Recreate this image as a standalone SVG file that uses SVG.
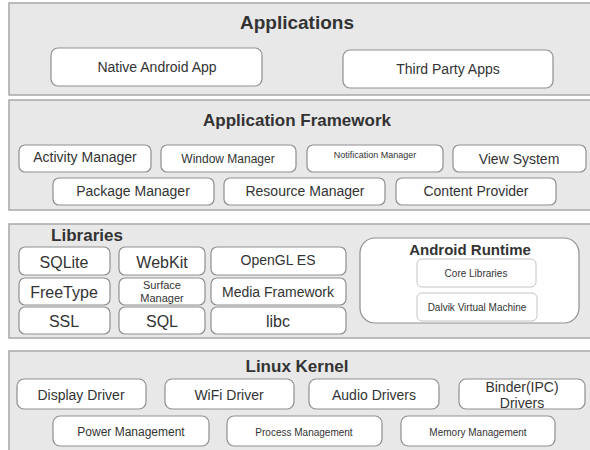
<svg xmlns="http://www.w3.org/2000/svg" width="590" height="450" viewBox="0 0 590 450">
<style>
.layer{fill:#e8e8e8;stroke:#a8a8a8;stroke-width:1.5}
.box{fill:#ffffff;stroke:#8f8f8f;stroke-width:1.2}
.rt{fill:#ffffff;stroke:#8f8f8f;stroke-width:1.2}
.in{fill:#ffffff;stroke:#c4c4c4;stroke-width:1}
text{font-family:"Liberation Sans",Arial,sans-serif;fill:#333333;text-anchor:middle;dominant-baseline:central}
.t{font-weight:bold;font-size:17px}
.l{font-size:14px}
.m{font-size:16px}
.s{font-size:10px}
.xs{font-size:9px}
</style>
<rect width="590" height="450" fill="#ffffff"/>
<g id="applications">
<rect class="layer" x="9" y="3" width="600" height="92"/>
<text class="t" x="297" y="22" style="font-size:19px">Applications</text>
</g>
<g id="native-android-app"><rect class="box" x="51" y="48" width="211" height="38" rx="7"/><text class="l" x="157" y="67">Native Android App</text></g>
<g id="third-party-apps"><rect class="box" x="343" y="50" width="210" height="38" rx="7"/><text class="l" x="448" y="69">Third Party Apps</text></g>

<g id="application-framework">
<rect class="layer" x="9" y="100" width="600" height="110"/>
<text class="t" x="297" y="120">Application Framework</text>
</g>
<g id="activity-manager"><rect class="box" x="19" y="145" width="132" height="27" rx="6"/><text class="l" x="85" y="157">Activity Manager</text></g>
<g id="window-manager"><rect class="box" x="161" y="145" width="135" height="27" rx="6"/><text class="l" x="228" y="159" style="font-size:12px">Window Manager</text></g>
<g id="notification-manager"><rect class="box" x="307" y="145" width="136" height="27" rx="6"/><text class="xs" x="375" y="155">Notification Manager</text></g>
<g id="view-system"><rect class="box" x="453" y="145" width="133" height="27" rx="6"/><text class="l" x="519" y="159">View System</text></g>
<g id="package-manager"><rect class="box" x="53" y="178" width="161" height="27" rx="6"/><text class="l" x="133" y="191">Package Manager</text></g>
<g id="resource-manager"><rect class="box" x="224" y="178" width="161" height="27" rx="6"/><text class="l" x="305" y="191">Resource Manager</text></g>
<g id="content-provider"><rect class="box" x="396" y="178" width="160" height="27" rx="6"/><text class="l" x="476" y="191">Content Provider</text></g>

<g id="libraries">
<rect class="layer" x="9" y="224" width="600" height="114"/>
<text class="t" x="87" y="235">Libraries</text>
</g>
<g id="sqlite"><rect class="box" x="19" y="247" width="91" height="28" rx="6"/><text class="m" x="64" y="262">SQLite</text></g>
<g id="webkit"><rect class="box" x="119" y="247" width="86" height="28" rx="6"/><text class="m" x="162" y="262">WebKit</text></g>
<g id="opengl-es"><rect class="box" x="211" y="247" width="135" height="28" rx="6"/><text class="l" x="278" y="260">OpenGL ES</text></g>
<g id="freetype"><rect class="box" x="19" y="278" width="91" height="27" rx="6"/><text class="m" x="64" y="292">FreeType</text></g>
<g id="surface-manager"><rect class="box" x="119" y="278" width="86" height="27" rx="6"/><text class="s" x="162" y="285" style="font-size:11px">Surface</text><text class="s" x="162" y="298" style="font-size:11px">Manager</text></g>
<g id="media-framework"><rect class="box" x="211" y="278" width="135" height="27" rx="6"/><text class="l" x="278" y="292">Media Framework</text></g>
<g id="ssl"><rect class="box" x="19" y="307" width="91" height="27" rx="6"/><text class="m" x="64" y="321">SSL</text></g>
<g id="sql"><rect class="box" x="119" y="307" width="86" height="27" rx="6"/><text class="m" x="162" y="321">SQL</text></g>
<g id="libc"><rect class="box" x="211" y="307" width="135" height="27" rx="6"/><text class="m" x="278" y="321">libc</text></g>

<g id="android-runtime">
<rect class="rt" x="360" y="238" width="219" height="85" rx="15"/>
<text class="t" x="470" y="249" style="font-size:15px">Android Runtime</text>
</g>
<g id="core-libraries"><rect class="in" x="417" y="259" width="119" height="28" rx="5"/><text class="s" x="476" y="273">Core Libraries</text></g>
<g id="dalvik-vm"><rect class="in" x="417" y="293" width="120" height="28" rx="5"/><text class="s" x="477" y="307">Dalvik Virtual Machine</text></g>

<g id="linux-kernel">
<rect class="layer" x="9" y="351" width="600" height="110"/>
<text class="t" x="297" y="366">Linux Kernel</text>
</g>
<g id="display-driver"><rect class="box" x="17" y="379" width="129" height="30" rx="7"/><text class="l" x="81" y="395">Display Driver</text></g>
<g id="wifi-driver"><rect class="box" x="165" y="379" width="129" height="30" rx="7"/><text class="l" x="229" y="395">WiFi Driver</text></g>
<g id="audio-drivers"><rect class="box" x="309" y="379" width="130" height="30" rx="7"/><text class="l" x="374" y="395">Audio Drivers</text></g>
<g id="binder-drivers"><rect class="box" x="459" y="379" width="126" height="30" rx="7"/><text class="l" x="522" y="387">Binder(IPC)</text><text class="l" x="522" y="403">Drivers</text></g>
<g id="power-management"><rect class="box" x="53" y="416" width="156" height="30" rx="7"/><text class="l" x="131" y="432" style="font-size:12px">Power Management</text></g>
<g id="process-management"><rect class="box" x="227" y="416" width="155" height="30" rx="7"/><text class="s" x="304" y="432">Process Management</text></g>
<g id="memory-management"><rect class="box" x="401" y="416" width="154" height="30" rx="7"/><text class="s" x="478" y="432">Memory Management</text></g>
<g id="connectors"></g>
</svg>
